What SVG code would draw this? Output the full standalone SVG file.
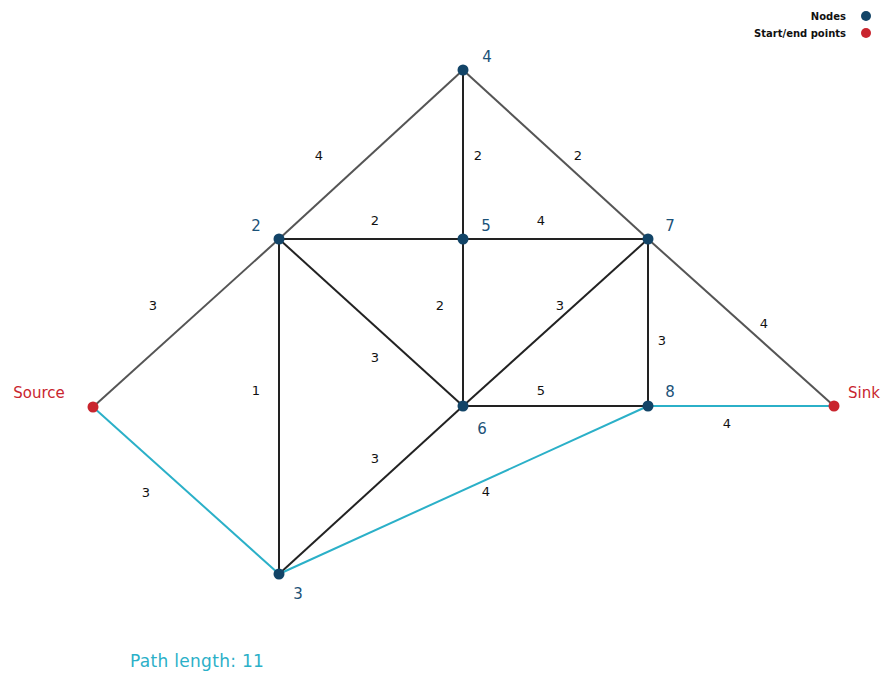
<svg xmlns="http://www.w3.org/2000/svg" width="891" height="675" viewBox="0 0 891 675">
<style>
.e{stroke:#222;stroke-width:2;fill:none}
.g{stroke:#555;stroke-width:2;fill:none}
.p{stroke:#2bb0c8;stroke-width:2;fill:none}
.el{font-family:"DejaVu Sans",sans-serif;font-size:13px;fill:#111;text-anchor:middle}
.nl{font-family:"DejaVu Sans",sans-serif;font-size:15px;fill:#1b5278;text-anchor:middle}
.rl{font-family:"DejaVu Sans",sans-serif;font-size:15px;fill:#c9252e;text-anchor:middle}
.n{fill:#124467}
.r{fill:#c9252e}
.lg{font-family:"DejaVu Sans",sans-serif;font-size:10px;font-weight:bold;fill:#111;text-anchor:end}
</style>
<rect width="891" height="675" fill="#fff"/>
<g id="connectors">
<line class="g" x1="93" y1="407" x2="279" y2="239"/>
<line class="g" x1="279" y1="239" x2="463" y2="70"/>
<line class="g" x1="463" y1="70" x2="648" y2="239"/>
<line class="g" x1="648" y1="239" x2="834" y2="406"/>
<line class="e" x1="463" y1="70" x2="463" y2="239"/>
<line class="e" x1="279" y1="239" x2="463" y2="239"/>
<line class="e" x1="463" y1="239" x2="648" y2="239"/>
<line class="e" x1="463" y1="239" x2="463" y2="406"/>
<line class="e" x1="463" y1="406" x2="648" y2="239"/>
<line class="e" x1="648" y1="239" x2="648" y2="406"/>
<line class="e" x1="279" y1="239" x2="463" y2="406"/>
<line class="e" x1="279" y1="239" x2="279" y2="574"/>
<line class="e" x1="463" y1="406" x2="648" y2="406"/>
<line class="e" x1="279" y1="574" x2="463" y2="406"/>
<line class="p" x1="93" y1="407" x2="279" y2="574"/>
<line class="p" x1="279" y1="574" x2="648" y2="406"/>
<line class="p" x1="648" y1="406" x2="834" y2="406"/>
</g>
<g id="edge-labels">
<text class="el" x="319" y="160">4</text>
<text class="el" x="478" y="160">2</text>
<text class="el" x="578" y="160">2</text>
<text class="el" x="375" y="225">2</text>
<text class="el" x="541" y="225">4</text>
<text class="el" x="153" y="310">3</text>
<text class="el" x="440" y="310">2</text>
<text class="el" x="560" y="310">3</text>
<text class="el" x="662" y="345">3</text>
<text class="el" x="764" y="328">4</text>
<text class="el" x="375" y="362">3</text>
<text class="el" x="256" y="395">1</text>
<text class="el" x="541" y="395">5</text>
<text class="el" x="727" y="428">4</text>
<text class="el" x="375" y="463">3</text>
<text class="el" x="486" y="496">4</text>
<text class="el" x="146" y="497">3</text>
</g>
<g id="node-source"><circle class="r" cx="93" cy="407" r="5.5"/><text class="rl" x="39" y="398">Source</text></g>
<g id="node-2"><circle class="n" cx="279" cy="239" r="5.5"/><text class="nl" x="256" y="231">2</text></g>
<g id="node-4"><circle class="n" cx="463" cy="70" r="5.5"/><text class="nl" x="487" y="62">4</text></g>
<g id="node-5"><circle class="n" cx="463" cy="239" r="5.5"/><text class="nl" x="486" y="231">5</text></g>
<g id="node-7"><circle class="n" cx="648" cy="239" r="5.5"/><text class="nl" x="670" y="231">7</text></g>
<g id="node-6"><circle class="n" cx="463" cy="406" r="5.5"/><text class="nl" x="482" y="434">6</text></g>
<g id="node-8"><circle class="n" cx="648" cy="406" r="5.5"/><text class="nl" x="670" y="397">8</text></g>
<g id="node-sink"><circle class="r" cx="834" cy="406" r="5.5"/><text class="rl" x="864" y="398">Sink</text></g>
<g id="node-3"><circle class="n" cx="279" cy="574" r="5.5"/><text class="nl" x="298" y="599">3</text></g>
<g id="legend">
<text class="lg" x="846" y="20">Nodes</text>
<circle class="n" cx="866" cy="16" r="5"/>
<text class="lg" x="846" y="37">Start/end points</text>
<circle class="r" cx="866" cy="33" r="5"/>
</g>
<text x="130" y="667" font-family="DejaVu Sans, sans-serif" font-size="17" letter-spacing="0.3" fill="#2bb0c8">Path length: 11</text>
</svg>
